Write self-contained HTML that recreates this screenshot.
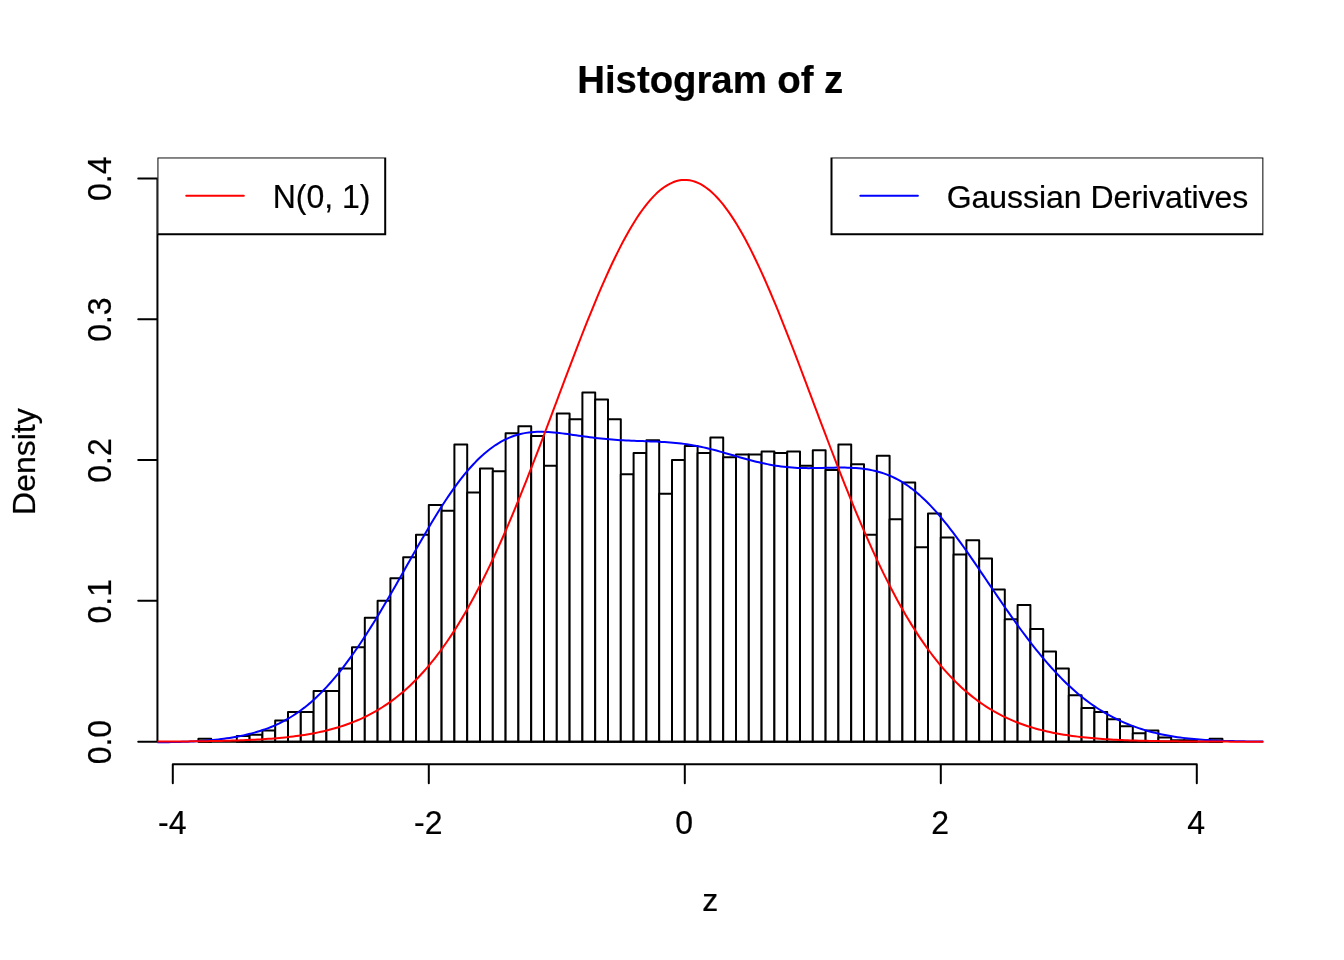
<!DOCTYPE html>
<html lang="en"><head><meta charset="utf-8"><title>Histogram of z</title>
<style>html,body{margin:0;padding:0;background:#fff;width:1344px;height:960px;overflow:hidden}svg{position:absolute;left:0;top:0}</style>
</head><body>
<svg width="1344" height="960" viewBox="0 0 1344 960" style="display:block">
<defs><clipPath id="plotclip"><rect x="157.44" y="157.44" width="1105.9199999999998" height="606.72"/></clipPath></defs>
<rect x="0" y="0" width="1344" height="960" fill="#fff"/>
<g fill="#fff" stroke="#000" stroke-width="2" stroke-linejoin="round" clip-path="url(#plotclip)">
<rect x="198.40" y="738.87" width="12.8" height="2.82"/>
<rect x="211.20" y="741.69" width="12.8" height="0.00"/>
<rect x="224.00" y="741.69" width="12.8" height="0.00"/>
<rect x="236.80" y="736.06" width="12.8" height="5.63"/>
<rect x="249.60" y="734.65" width="12.8" height="7.04"/>
<rect x="262.40" y="730.42" width="12.8" height="11.27"/>
<rect x="275.20" y="720.57" width="12.8" height="21.12"/>
<rect x="288.00" y="712.12" width="12.8" height="29.57"/>
<rect x="300.80" y="712.12" width="12.8" height="29.57"/>
<rect x="313.60" y="690.99" width="12.8" height="50.70"/>
<rect x="326.40" y="690.99" width="12.8" height="50.70"/>
<rect x="339.20" y="668.46" width="12.8" height="73.23"/>
<rect x="352.00" y="647.34" width="12.8" height="94.35"/>
<rect x="364.80" y="617.77" width="12.8" height="123.92"/>
<rect x="377.60" y="600.87" width="12.8" height="140.82"/>
<rect x="390.40" y="578.34" width="12.8" height="163.35"/>
<rect x="403.20" y="557.22" width="12.8" height="184.47"/>
<rect x="416.00" y="534.68" width="12.8" height="207.01"/>
<rect x="428.80" y="505.11" width="12.8" height="236.58"/>
<rect x="441.60" y="510.75" width="12.8" height="230.94"/>
<rect x="454.40" y="444.56" width="12.8" height="297.13"/>
<rect x="467.20" y="492.44" width="12.8" height="249.25"/>
<rect x="480.00" y="468.50" width="12.8" height="273.19"/>
<rect x="492.80" y="471.32" width="12.8" height="270.37"/>
<rect x="505.60" y="433.29" width="12.8" height="308.40"/>
<rect x="518.40" y="426.25" width="12.8" height="315.44"/>
<rect x="531.20" y="436.11" width="12.8" height="305.58"/>
<rect x="544.00" y="465.68" width="12.8" height="276.01"/>
<rect x="556.80" y="413.58" width="12.8" height="328.11"/>
<rect x="569.60" y="419.21" width="12.8" height="322.48"/>
<rect x="582.40" y="392.46" width="12.8" height="349.23"/>
<rect x="595.20" y="399.50" width="12.8" height="342.19"/>
<rect x="608.00" y="419.21" width="12.8" height="322.48"/>
<rect x="620.80" y="474.13" width="12.8" height="267.56"/>
<rect x="633.60" y="453.01" width="12.8" height="288.68"/>
<rect x="646.40" y="440.34" width="12.8" height="301.35"/>
<rect x="659.20" y="493.85" width="12.8" height="247.84"/>
<rect x="672.00" y="460.05" width="12.8" height="281.64"/>
<rect x="684.80" y="445.97" width="12.8" height="295.72"/>
<rect x="697.60" y="453.01" width="12.8" height="288.68"/>
<rect x="710.40" y="437.52" width="12.8" height="304.17"/>
<rect x="723.20" y="457.23" width="12.8" height="284.46"/>
<rect x="736.00" y="454.42" width="12.8" height="287.27"/>
<rect x="748.80" y="454.42" width="12.8" height="287.27"/>
<rect x="761.60" y="451.60" width="12.8" height="290.09"/>
<rect x="774.40" y="453.01" width="12.8" height="288.68"/>
<rect x="787.20" y="451.60" width="12.8" height="290.09"/>
<rect x="800.00" y="465.68" width="12.8" height="276.01"/>
<rect x="812.80" y="450.19" width="12.8" height="291.50"/>
<rect x="825.60" y="469.91" width="12.8" height="271.78"/>
<rect x="838.40" y="444.56" width="12.8" height="297.13"/>
<rect x="851.20" y="464.27" width="12.8" height="277.42"/>
<rect x="864.00" y="534.68" width="12.8" height="207.01"/>
<rect x="876.80" y="455.83" width="12.8" height="285.86"/>
<rect x="889.60" y="519.19" width="12.8" height="222.50"/>
<rect x="902.40" y="482.58" width="12.8" height="259.11"/>
<rect x="915.20" y="547.36" width="12.8" height="194.33"/>
<rect x="928.00" y="513.56" width="12.8" height="228.13"/>
<rect x="940.80" y="537.50" width="12.8" height="204.19"/>
<rect x="953.60" y="554.40" width="12.8" height="187.29"/>
<rect x="966.40" y="540.32" width="12.8" height="201.37"/>
<rect x="979.20" y="558.62" width="12.8" height="183.07"/>
<rect x="992.00" y="589.60" width="12.8" height="152.09"/>
<rect x="1004.80" y="619.18" width="12.8" height="122.51"/>
<rect x="1017.60" y="605.09" width="12.8" height="136.60"/>
<rect x="1030.40" y="629.03" width="12.8" height="112.66"/>
<rect x="1043.20" y="651.57" width="12.8" height="90.12"/>
<rect x="1056.00" y="668.46" width="12.8" height="73.23"/>
<rect x="1068.80" y="695.22" width="12.8" height="46.47"/>
<rect x="1081.60" y="707.89" width="12.8" height="33.80"/>
<rect x="1094.40" y="712.12" width="12.8" height="29.57"/>
<rect x="1107.20" y="719.16" width="12.8" height="22.53"/>
<rect x="1120.00" y="726.20" width="12.8" height="15.49"/>
<rect x="1132.80" y="733.24" width="12.8" height="8.45"/>
<rect x="1145.60" y="730.42" width="12.8" height="11.27"/>
<rect x="1158.40" y="737.47" width="12.8" height="4.22"/>
<rect x="1171.20" y="740.28" width="12.8" height="1.41"/>
<rect x="1184.00" y="740.28" width="12.8" height="1.41"/>
<rect x="1196.80" y="741.69" width="12.8" height="0.00"/>
<rect x="1209.60" y="738.87" width="12.8" height="2.82"/>
<path d="M198.4,741.69 H1222.4"/>
</g>
<g font-family='"Liberation Sans", Arial, Helvetica, sans-serif' fill="#000" stroke="#000" stroke-width="0.2">
<text x="710.3" y="93.1" font-size="38.4" font-weight="bold" text-anchor="middle" letter-spacing="-0.05">Histogram of z</text>
<text x="710.2" y="911.2" font-size="32" text-anchor="middle">z</text>
<text transform="translate(34.5,461.6) rotate(-90)" font-size="32" text-anchor="middle">Density</text>
<g font-size="32" text-anchor="middle">
<text transform="translate(172.20,833.7) scale(1,1.04)">-4</text>
<text transform="translate(428.20,833.7) scale(1,1.04)">-2</text>
<text transform="translate(684.20,833.7) scale(1,1.04)">0</text>
<text transform="translate(940.20,833.7) scale(1,1.04)">2</text>
<text transform="translate(1196.20,833.7) scale(1,1.04)">4</text>
<text transform="translate(110.5,742.09) rotate(-90) scale(1,1.04)">0.0</text>
<text transform="translate(110.5,601.27) rotate(-90) scale(1,1.04)">0.1</text>
<text transform="translate(110.5,460.45) rotate(-90) scale(1,1.04)">0.2</text>
<text transform="translate(110.5,319.63) rotate(-90) scale(1,1.04)">0.3</text>
<text transform="translate(110.5,178.81) rotate(-90) scale(1,1.04)">0.4</text>
</g>
</g>
<g stroke="#000" stroke-width="2" fill="none" stroke-linecap="round">
<path d="M172.79999999999995,764.16 H1196.8 M172.79999999999995,764.16 v19.2 M428.79999999999995,764.16 v19.2 M684.8,764.16 v19.2 M940.8,764.16 v19.2 M1196.8,764.16 v19.2"/>
<path d="M157.44,741.69 V178.41 M157.44,741.69 h-19.2 M157.44,600.87 h-19.2 M157.44,460.05 h-19.2 M157.44,319.23 h-19.2 M157.44,178.41 h-19.2"/>
</g>
<g fill="none" stroke-width="2" stroke-linecap="round" stroke-linejoin="round" clip-path="url(#plotclip)">
<path stroke="#0000ff" d="M157.44,742.25 L160.21,742.24 L162.98,742.21 L165.76,742.19 L168.53,742.15 L171.30,742.11 L174.07,742.06 L176.84,742.00 L179.61,741.92 L182.39,741.84 L185.16,741.75 L187.93,741.65 L190.70,741.53 L193.47,741.39 L196.24,741.25 L199.02,741.08 L201.79,740.90 L204.56,740.70 L207.33,740.48 L210.10,740.25 L212.87,739.99 L215.65,739.70 L218.42,739.40 L221.19,739.07 L223.96,738.71 L226.73,738.32 L229.50,737.91 L232.28,737.47 L235.05,736.99 L237.82,736.48 L240.59,735.94 L243.36,735.36 L246.14,734.74 L248.91,734.08 L251.68,733.38 L254.45,732.63 L257.22,731.83 L259.99,730.98 L262.77,730.07 L265.54,729.11 L268.31,728.09 L271.08,727.00 L273.85,725.84 L276.62,724.61 L279.40,723.30 L282.17,721.91 L284.94,720.45 L287.71,718.89 L290.48,717.25 L293.25,715.52 L296.03,713.70 L298.80,711.79 L301.57,709.77 L304.34,707.66 L307.11,705.45 L309.89,703.14 L312.66,700.72 L315.43,698.20 L318.20,695.58 L320.97,692.85 L323.74,690.02 L326.52,687.08 L329.29,684.03 L332.06,680.89 L334.83,677.64 L337.60,674.29 L340.37,670.84 L343.15,667.30 L345.92,663.67 L348.69,659.94 L351.46,656.13 L354.23,652.23 L357.00,648.25 L359.78,644.19 L362.55,640.05 L365.32,635.83 L368.09,631.53 L370.86,627.16 L373.63,622.72 L376.41,618.22 L379.18,613.64 L381.95,609.01 L384.72,604.33 L387.49,599.60 L390.27,594.82 L393.04,590.00 L395.81,585.15 L398.58,580.27 L401.35,575.38 L404.12,570.47 L406.90,565.56 L409.67,560.65 L412.44,555.75 L415.21,550.87 L417.98,546.01 L420.75,541.18 L423.53,536.39 L426.30,531.64 L429.07,526.95 L431.84,522.31 L434.61,517.75 L437.38,513.25 L440.16,508.83 L442.93,504.51 L445.70,500.27 L448.47,496.13 L451.24,492.10 L454.02,488.18 L456.79,484.38 L459.56,480.69 L462.33,477.13 L465.10,473.70 L467.87,470.40 L470.65,467.24 L473.42,464.21 L476.19,461.32 L478.96,458.57 L481.73,455.96 L484.50,453.50 L487.28,451.17 L490.05,448.99 L492.82,446.95 L495.59,445.05 L498.36,443.29 L501.13,441.67 L503.91,440.18 L506.68,438.83 L509.45,437.61 L512.22,436.52 L514.99,435.56 L517.76,434.72 L520.54,433.99 L523.31,433.38 L526.08,432.88 L528.85,432.48 L531.62,432.18 L534.40,431.97 L537.17,431.84 L539.94,431.79 L542.71,431.81 L545.48,431.89 L548.25,432.03 L551.03,432.23 L553.80,432.46 L556.57,432.74 L559.34,433.05 L562.11,433.38 L564.88,433.74 L567.66,434.11 L570.43,434.50 L573.20,434.89 L575.97,435.29 L578.74,435.68 L581.51,436.08 L584.29,436.46 L587.06,436.84 L589.83,437.21 L592.60,437.57 L595.37,437.91 L598.14,438.23 L600.92,438.54 L603.69,438.82 L606.46,439.09 L609.23,439.35 L612.00,439.58 L614.78,439.79 L617.55,439.99 L620.32,440.16 L623.09,440.33 L625.86,440.47 L628.63,440.61 L631.41,440.73 L634.18,440.84 L636.95,440.94 L639.72,441.03 L642.49,441.12 L645.26,441.21 L648.04,441.30 L650.81,441.40 L653.58,441.50 L656.35,441.62 L659.12,441.74 L661.89,441.88 L664.67,442.04 L667.44,442.22 L670.21,442.43 L672.98,442.66 L675.75,442.92 L678.53,443.21 L681.30,443.53 L684.07,443.88 L686.84,444.28 L689.61,444.70 L692.38,445.17 L695.16,445.67 L697.93,446.20 L700.70,446.77 L703.47,447.38 L706.24,448.01 L709.01,448.68 L711.79,449.37 L714.56,450.09 L717.33,450.84 L720.10,451.60 L722.87,452.38 L725.64,453.17 L728.42,453.97 L731.19,454.77 L733.96,455.58 L736.73,456.38 L739.50,457.18 L742.27,457.97 L745.05,458.75 L747.82,459.51 L750.59,460.25 L753.36,460.97 L756.13,461.66 L758.91,462.33 L761.68,462.97 L764.45,463.57 L767.22,464.14 L769.99,464.68 L772.76,465.18 L775.54,465.64 L778.31,466.06 L781.08,466.44 L783.85,466.77 L786.62,467.07 L789.39,467.33 L792.17,467.55 L794.94,467.73 L797.71,467.88 L800.48,467.99 L803.25,468.06 L806.02,468.11 L808.80,468.13 L811.57,468.12 L814.34,468.10 L817.11,468.05 L819.88,468.00 L822.66,467.93 L825.43,467.86 L828.20,467.79 L830.97,467.72 L833.74,467.66 L836.51,467.62 L839.29,467.59 L842.06,467.58 L844.83,467.60 L847.60,467.66 L850.37,467.75 L853.14,467.88 L855.92,468.06 L858.69,468.29 L861.46,468.58 L864.23,468.92 L867.00,469.33 L869.77,469.81 L872.55,470.37 L875.32,471.00 L878.09,471.71 L880.86,472.52 L883.63,473.41 L886.40,474.41 L889.18,475.50 L891.95,476.70 L894.72,478.01 L897.49,479.43 L900.26,480.97 L903.04,482.62 L905.81,484.40 L908.58,486.30 L911.35,488.32 L914.12,490.46 L916.89,492.73 L919.67,495.12 L922.44,497.64 L925.21,500.27 L927.98,503.02 L930.75,505.88 L933.52,508.86 L936.30,511.94 L939.07,515.12 L941.84,518.40 L944.61,521.78 L947.38,525.24 L950.15,528.78 L952.93,532.40 L955.70,536.09 L958.47,539.85 L961.24,543.66 L964.01,547.53 L966.78,551.45 L969.56,555.41 L972.33,559.41 L975.10,563.44 L977.87,567.49 L980.64,571.57 L983.42,575.66 L986.19,579.75 L988.96,583.85 L991.73,587.95 L994.50,592.04 L997.27,596.11 L1000.05,600.17 L1002.82,604.20 L1005.59,608.21 L1008.36,612.19 L1011.13,616.13 L1013.90,620.04 L1016.68,623.90 L1019.45,627.72 L1022.22,631.49 L1024.99,635.21 L1027.76,638.88 L1030.53,642.49 L1033.31,646.04 L1036.08,649.53 L1038.85,652.96 L1041.62,656.33 L1044.39,659.63 L1047.17,662.86 L1049.94,666.02 L1052.71,669.11 L1055.48,672.12 L1058.25,675.06 L1061.02,677.93 L1063.80,680.71 L1066.57,683.42 L1069.34,686.05 L1072.11,688.60 L1074.88,691.06 L1077.65,693.45 L1080.43,695.76 L1083.20,697.99 L1085.97,700.14 L1088.74,702.21 L1091.51,704.21 L1094.28,706.13 L1097.06,707.97 L1099.83,709.75 L1102.60,711.46 L1105.37,713.10 L1108.14,714.67 L1110.91,716.18 L1113.69,717.63 L1116.46,719.01 L1119.23,720.34 L1122.00,721.61 L1124.77,722.83 L1127.55,723.99 L1130.32,725.09 L1133.09,726.15 L1135.86,727.15 L1138.63,728.11 L1141.40,729.02 L1144.18,729.88 L1146.95,730.70 L1149.72,731.48 L1152.49,732.21 L1155.26,732.90 L1158.03,733.56 L1160.81,734.17 L1163.58,734.75 L1166.35,735.29 L1169.12,735.80 L1171.89,736.28 L1174.66,736.72 L1177.44,737.14 L1180.21,737.52 L1182.98,737.88 L1185.75,738.21 L1188.52,738.52 L1191.30,738.81 L1194.07,739.07 L1196.84,739.32 L1199.61,739.54 L1202.38,739.75 L1205.15,739.94 L1207.93,740.11 L1210.70,740.27 L1213.47,740.42 L1216.24,740.55 L1219.01,740.67 L1221.78,740.78 L1224.56,740.88 L1227.33,740.97 L1230.10,741.05 L1232.87,741.12 L1235.64,741.19 L1238.41,741.25 L1241.19,741.30 L1243.96,741.34 L1246.73,741.38 L1249.50,741.42 L1252.27,741.45 L1255.04,741.48 L1257.82,741.50 L1260.59,741.53 L1263.36,741.55"/>
<path stroke="#ff0000" d="M157.44,741.57 L160.21,741.56 L162.98,741.55 L165.76,741.54 L168.53,741.53 L171.30,741.51 L174.07,741.49 L176.84,741.48 L179.61,741.46 L182.39,741.44 L185.16,741.41 L187.93,741.39 L190.70,741.36 L193.47,741.34 L196.24,741.30 L199.02,741.27 L201.79,741.24 L204.56,741.20 L207.33,741.16 L210.10,741.11 L212.87,741.06 L215.65,741.01 L218.42,740.95 L221.19,740.89 L223.96,740.83 L226.73,740.76 L229.50,740.68 L232.28,740.60 L235.05,740.52 L237.82,740.43 L240.59,740.33 L243.36,740.22 L246.14,740.11 L248.91,739.99 L251.68,739.86 L254.45,739.72 L257.22,739.57 L259.99,739.41 L262.77,739.24 L265.54,739.06 L268.31,738.87 L271.08,738.66 L273.85,738.44 L276.62,738.21 L279.40,737.96 L282.17,737.70 L284.94,737.42 L287.71,737.12 L290.48,736.81 L293.25,736.47 L296.03,736.11 L298.80,735.74 L301.57,735.34 L304.34,734.91 L307.11,734.46 L309.89,733.99 L312.66,733.49 L315.43,732.95 L318.20,732.39 L320.97,731.80 L323.74,731.17 L326.52,730.52 L329.29,729.82 L332.06,729.09 L334.83,728.32 L337.60,727.50 L340.37,726.65 L343.15,725.75 L345.92,724.80 L348.69,723.81 L351.46,722.77 L354.23,721.68 L357.00,720.53 L359.78,719.33 L362.55,718.07 L365.32,716.76 L368.09,715.38 L370.86,713.93 L373.63,712.43 L376.41,710.85 L379.18,709.21 L381.95,707.49 L384.72,705.70 L387.49,703.84 L390.27,701.90 L393.04,699.87 L395.81,697.77 L398.58,695.58 L401.35,693.30 L404.12,690.94 L406.90,688.48 L409.67,685.93 L412.44,683.29 L415.21,680.55 L417.98,677.71 L420.75,674.77 L423.53,671.73 L426.30,668.59 L429.07,665.34 L431.84,661.98 L434.61,658.52 L437.38,654.94 L440.16,651.25 L442.93,647.46 L445.70,643.54 L448.47,639.51 L451.24,635.37 L454.02,631.11 L456.79,626.74 L459.56,622.24 L462.33,617.63 L465.10,612.91 L467.87,608.06 L470.65,603.10 L473.42,598.02 L476.19,592.82 L478.96,587.51 L481.73,582.09 L484.50,576.55 L487.28,570.90 L490.05,565.13 L492.82,559.26 L495.59,553.28 L498.36,547.20 L501.13,541.02 L503.91,534.73 L506.68,528.35 L509.45,521.88 L512.22,515.31 L514.99,508.66 L517.76,501.92 L520.54,495.11 L523.31,488.22 L526.08,481.26 L528.85,474.24 L531.62,467.15 L534.40,460.01 L537.17,452.82 L539.94,445.58 L542.71,438.31 L545.48,431.00 L548.25,423.66 L551.03,416.31 L553.80,408.94 L556.57,401.56 L559.34,394.18 L562.11,386.81 L564.88,379.46 L567.66,372.12 L570.43,364.81 L573.20,357.54 L575.97,350.31 L578.74,343.13 L581.51,336.01 L584.29,328.95 L587.06,321.97 L589.83,315.08 L592.60,308.27 L595.37,301.56 L598.14,294.95 L600.92,288.46 L603.69,282.09 L606.46,275.85 L609.23,269.75 L612.00,263.79 L614.78,257.98 L617.55,252.33 L620.32,246.85 L623.09,241.54 L625.86,236.41 L628.63,231.46 L631.41,226.71 L634.18,222.16 L636.95,217.82 L639.72,213.68 L642.49,209.76 L645.26,206.07 L648.04,202.60 L650.81,199.36 L653.58,196.36 L656.35,193.61 L659.12,191.09 L661.89,188.82 L664.67,186.81 L667.44,185.04 L670.21,183.54 L672.98,182.29 L675.75,181.30 L678.53,180.57 L681.30,180.11 L684.07,179.91 L686.84,179.97 L689.61,180.30 L692.38,180.88 L695.16,181.73 L697.93,182.85 L700.70,184.22 L703.47,185.84 L706.24,187.73 L709.01,189.86 L711.79,192.25 L714.56,194.88 L717.33,197.75 L720.10,200.86 L722.87,204.21 L725.64,207.79 L728.42,211.59 L731.19,215.61 L733.96,219.84 L736.73,224.28 L739.50,228.93 L742.27,233.77 L745.05,238.81 L747.82,244.02 L750.59,249.41 L753.36,254.98 L756.13,260.70 L758.91,266.58 L761.68,272.61 L764.45,278.78 L767.22,285.08 L769.99,291.51 L772.76,298.06 L775.54,304.71 L778.31,311.47 L781.08,318.32 L783.85,325.26 L786.62,332.28 L789.39,339.36 L792.17,346.51 L794.94,353.71 L797.71,360.97 L800.48,368.26 L803.25,375.58 L806.02,382.93 L808.80,390.29 L811.57,397.67 L814.34,405.05 L817.11,412.42 L819.88,419.78 L822.66,427.13 L825.43,434.45 L828.20,441.75 L830.97,449.00 L833.74,456.22 L836.51,463.39 L839.29,470.50 L842.06,477.56 L844.83,484.56 L847.60,491.48 L850.37,498.34 L853.14,505.11 L855.92,511.81 L858.69,518.42 L861.46,524.95 L864.23,531.38 L867.00,537.71 L869.77,543.95 L872.55,550.09 L875.32,556.12 L878.09,562.05 L880.86,567.87 L883.63,573.58 L886.40,579.18 L889.18,584.66 L891.95,590.04 L894.72,595.29 L897.49,600.43 L900.26,605.46 L903.04,610.36 L905.81,615.15 L908.58,619.83 L911.35,624.38 L914.12,628.82 L916.89,633.14 L919.67,637.34 L922.44,641.43 L925.21,645.40 L927.98,649.26 L930.75,653.01 L933.52,656.64 L936.30,660.17 L939.07,663.58 L941.84,666.89 L944.61,670.09 L947.38,673.18 L950.15,676.17 L952.93,679.06 L955.70,681.86 L958.47,684.55 L961.24,687.15 L964.01,689.65 L966.78,692.06 L969.56,694.39 L972.33,696.62 L975.10,698.77 L977.87,700.84 L980.64,702.82 L983.42,704.73 L986.19,706.56 L988.96,708.31 L991.73,709.99 L994.50,711.61 L997.27,713.15 L1000.05,714.62 L1002.82,716.04 L1005.59,717.38 L1008.36,718.67 L1011.13,719.91 L1013.90,721.08 L1016.68,722.20 L1019.45,723.27 L1022.22,724.29 L1024.99,725.26 L1027.76,726.18 L1030.53,727.06 L1033.31,727.89 L1036.08,728.68 L1038.85,729.44 L1041.62,730.15 L1044.39,730.83 L1047.17,731.47 L1049.94,732.08 L1052.71,732.66 L1055.48,733.21 L1058.25,733.73 L1061.02,734.22 L1063.80,734.68 L1066.57,735.11 L1069.34,735.53 L1072.11,735.92 L1074.88,736.28 L1077.65,736.63 L1080.43,736.96 L1083.20,737.26 L1085.97,737.55 L1088.74,737.83 L1091.51,738.08 L1094.28,738.32 L1097.06,738.55 L1099.83,738.76 L1102.60,738.96 L1105.37,739.15 L1108.14,739.32 L1110.91,739.49 L1113.69,739.64 L1116.46,739.78 L1119.23,739.92 L1122.00,740.04 L1124.77,740.16 L1127.55,740.27 L1130.32,740.38 L1133.09,740.47 L1135.86,740.56 L1138.63,740.64 L1141.40,740.72 L1144.18,740.79 L1146.95,740.86 L1149.72,740.92 L1152.49,740.98 L1155.26,741.04 L1158.03,741.09 L1160.81,741.13 L1163.58,741.18 L1166.35,741.22 L1169.12,741.25 L1171.89,741.29 L1174.66,741.32 L1177.44,741.35 L1180.21,741.38 L1182.98,741.40 L1185.75,741.42 L1188.52,741.45 L1191.30,741.47 L1194.07,741.48 L1196.84,741.50 L1199.61,741.52 L1202.38,741.53 L1205.15,741.55 L1207.93,741.56 L1210.70,741.57 L1213.47,741.58 L1216.24,741.59 L1219.01,741.60 L1221.78,741.61 L1224.56,741.61 L1227.33,741.62 L1230.10,741.63 L1232.87,741.63 L1235.64,741.64 L1238.41,741.64 L1241.19,741.65 L1243.96,741.65 L1246.73,741.65 L1249.50,741.66 L1252.27,741.66 L1255.04,741.66 L1257.82,741.67 L1260.59,741.67 L1263.36,741.67"/>
</g>
<g clip-path="url(#plotclip)">
<rect x="157.44" y="157.44" width="227.76" height="76.8" fill="#fff" stroke="#000" stroke-width="2"/>
<rect x="831.5" y="157.44" width="431.86" height="76.8" fill="#fff" stroke="#000" stroke-width="2"/>
<path d="M186.24,195.84 h57.6" stroke="#ff0000" stroke-width="2" stroke-linecap="round"/>
<path d="M860.30,195.84 h57.6" stroke="#0000ff" stroke-width="2" stroke-linecap="round"/>
<g font-family='"Liberation Sans", Arial, Helvetica, sans-serif' font-size="32" fill="#000" stroke="#000" stroke-width="0.2">
<text transform="translate(272.64,208.1) scale(1,1.04)">N(0, 1)</text>
<text transform="translate(946.70,208.1) scale(1,1.0)" letter-spacing="-0.04">Gaussian Derivatives</text>
</g>
</g>
</svg>
</body></html>
